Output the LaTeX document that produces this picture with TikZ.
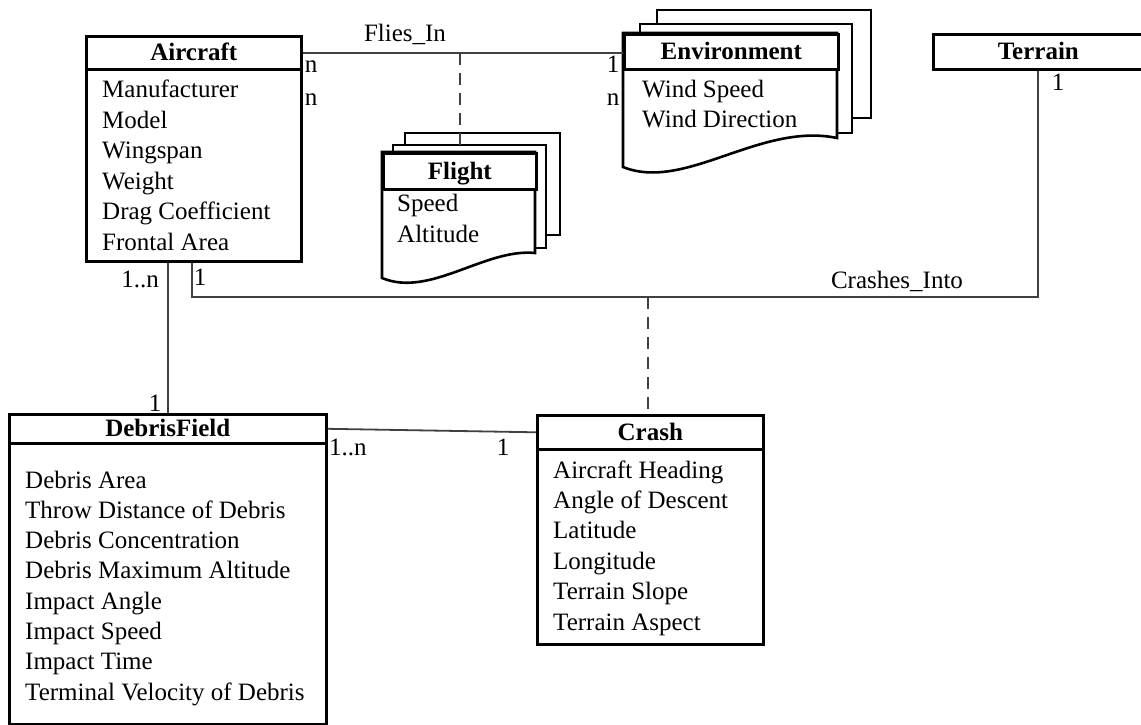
\documentclass[tikz,border=0pt]{standalone}
\usepackage{fontspec}
\setmainfont{Liberation Serif}
\begin{document}
\begin{tikzpicture}[x=1pt,y=-1pt]
\tikzset{
  every node/.style={font=\fontsize{25pt}{30pt}\selectfont, inner sep=0pt},
  box/.style={draw, line width=2.6pt, fill=white},
  hdr/.style={draw, line width=2.6pt, fill=white, anchor=north west,
    text height=16pt, text depth=0pt,
    font=\fontsize{25pt}{30pt}\selectfont\bfseries},
  link/.style={draw=black!75, line width=1.8pt},
  rel/.style={link, dash pattern=on 12pt off 8pt},
  attr/.style={anchor=base west},
  card/.style={anchor=base},
}
\useasboundingbox (0,0) rectangle (1141,725);
\fill[white] (0,0) rectangle (1141,725);

% ---------- Aircraft ----------
\node[box, anchor=north west, minimum width=215pt, minimum height=225pt] (ac) at (85,35) {};
\node[hdr, minimum width=215pt, minimum height=33pt] (ach) at (85,35) {Aircraft};
\foreach \t [count=\i] in {Manufacturer, Model, Wingspan, Weight, Drag Coefficient, Frontal Area}
  \node[attr] (ac-\i) at (102, {98+30.4*(\i-1)}) {\t};

% ---------- Flight (stacked sheets) ----------
\draw[box] (405,133) rectangle (560,235);
\draw[box] (393,145) rectangle (546,248);
\draw[box] (382,152) -- (535,152) -- (535,253)
  .. controls (485,248) and (430,298) .. (382,278) -- cycle;
\node[hdr, minimum width=153pt, minimum height=36pt] (flh) at (382,152) {Flight};
\node[attr] (fl-1) at (397,211) {Speed};
\node[attr] (fl-2) at (397,242) {Altitude};

% ---------- Environment (stacked sheets) ----------
\draw[box] (657,10) rectangle (871,118);
\draw[box] (640,24) rectangle (852,133);
\draw[box] (623,33) -- (837,33) -- (837,138)
  .. controls (760,122) and (685,192) .. (623,167) -- cycle;
\node[hdr, minimum width=214pt, minimum height=35pt] (envh) at (623,33) {Environment};
\node[attr] (env-1) at (642,97) {Wind Speed};
\node[attr] (env-2) at (642,127) {Wind Direction};

% ---------- Terrain ----------
\node[hdr, minimum width=210pt, minimum height=35pt] (ter) at (932,33) {Terrain};

% ---------- DebrisField ----------
\node[box, anchor=north west, minimum width=317pt, minimum height=310pt] (db) at (8,413) {};
\node[hdr, minimum width=317pt, minimum height=29pt] (dbh) at (8,413) {DebrisField};
\foreach \t [count=\i] in {Debris Area, Throw Distance of Debris, Debris Concentration,
    Debris Maximum Altitude, Impact Angle, Impact Speed, Impact Time, Terminal Velocity of Debris}
  \node[attr] (db-\i) at (25, {488+30.3*(\i-1)}) {\t};

% ---------- Crash ----------
\node[box, anchor=north west, minimum width=226pt, minimum height=229pt] (cr) at (536,414) {};
\node[hdr, minimum width=226pt, minimum height=34pt] (crh) at (536,414) {Crash};
\foreach \t [count=\i] in {Aircraft Heading, Angle of Descent, Latitude, Longitude,
    Terrain Slope, Terrain Aspect}
  \node[attr] (cr-\i) at (553, {478+30.4*(\i-1)}) {\t};

% ---------- Relationships ----------
\coordinate (ci) at (648,297);
\draw[link] (ach.east) -- (ach.east -| envh.west);
\draw[rel] (flh.north |- ach.east) -- (flh.north);
\draw[link] ([xshift=107pt]ac.south west) |- (ci) -| (ter.south);
\draw[rel] (ci) -- (ci |- crh.north);
\draw[link] (dbh.north |- ac.south) -- (dbh.north);
\draw[link] (dbh.east) -- (crh.west);

% ---------- Labels and cardinalities ----------
\node[card] (lfly) at (405,42) {Flies\_In};
\node[card] (c1) at (311,73) {n};
\node[card] (c2) at (311,105) {n};
\node[card] (c3) at (613,73) {1};
\node[card] (c4) at (613,105) {n};
\node[card] (c5) at (1058,90) {1};
\node[card] (lcr) at (897,288) {Crashes\_Into};
\node[card] (c6) at (140,287) {1..n};
\node[card] (c7) at (200,285) {1};
\node[card] (c8) at (155,411) {1};
\node[attr] (c9) at (329,455) {1..n};
\node[card] (c10) at (503,455) {1};
\end{tikzpicture}
\end{document}
